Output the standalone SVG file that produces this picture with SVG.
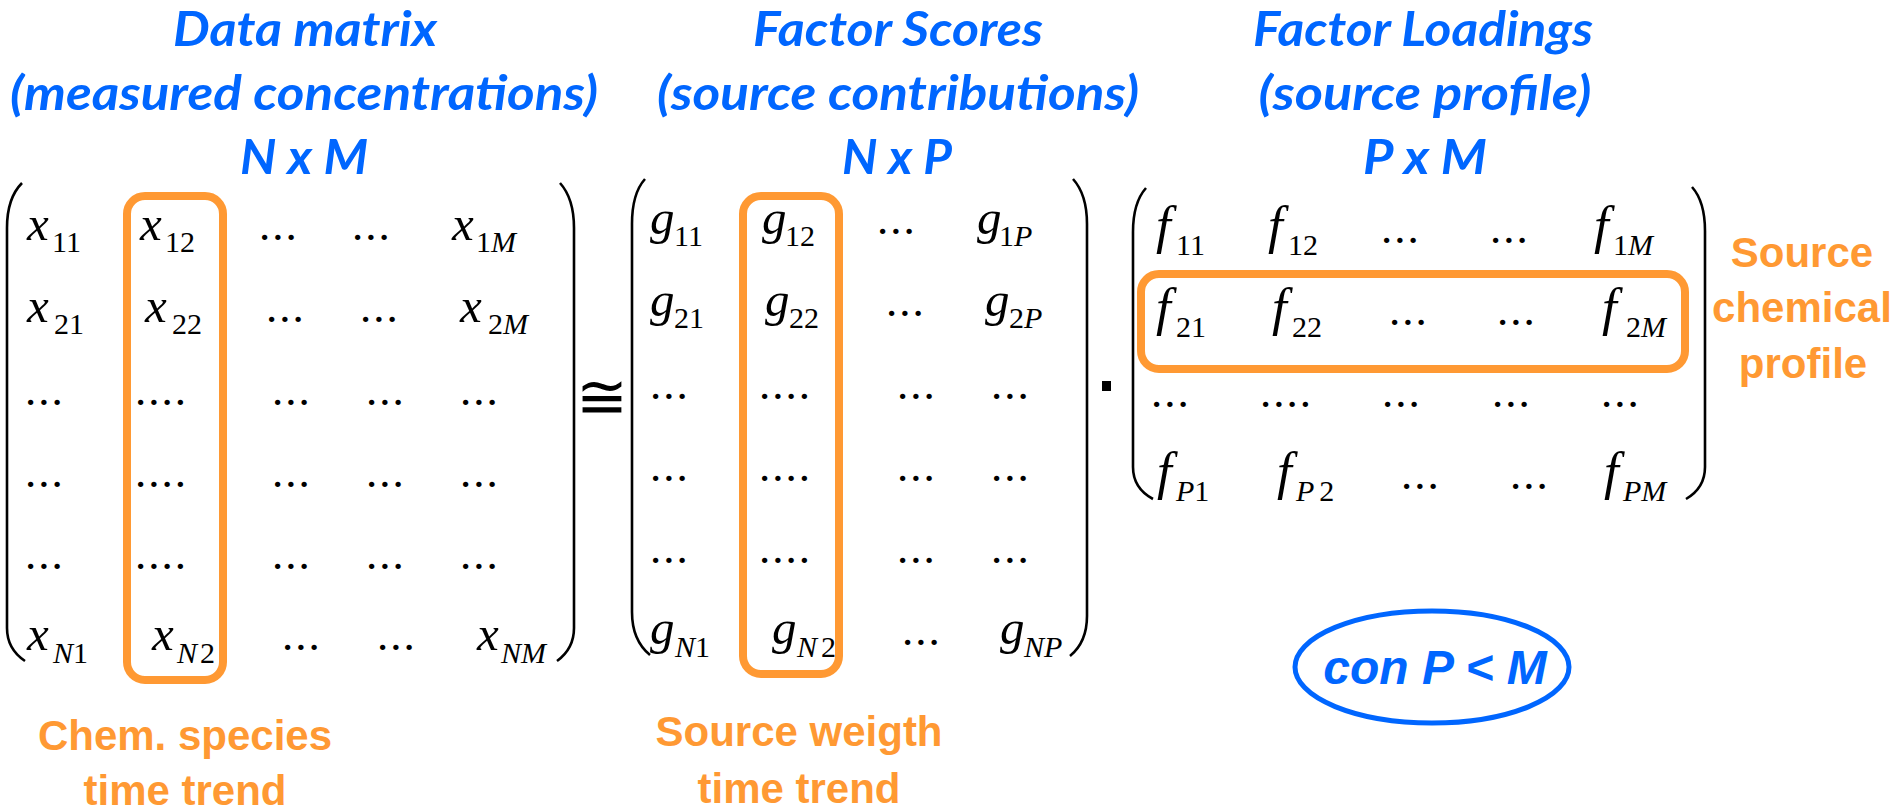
<svg xmlns="http://www.w3.org/2000/svg" width="1899" height="811" viewBox="0 0 1899 811">
<style>
.t{font-family:Lato,"Open Sans",sans-serif;font-weight:bold;font-style:italic;font-size:48px;fill:#0066FF;text-anchor:middle}
.m{font-family:"Liberation Serif","Times New Roman",serif;font-style:italic;font-size:49px;fill:#000}
.mf{font-size:53px}
.s{font-style:normal;font-size:30px}
.i{font-style:italic}
.d{font-family:"Liberation Serif","Times New Roman",serif;font-size:45px;letter-spacing:2px;fill:#000}
.br{fill:none;stroke:#000;stroke-width:2.6}
.ob{fill:none;stroke:#FF9933;stroke-width:8}
.ol{font-family:"Liberation Sans",Arial,sans-serif;font-weight:bold;font-size:42px;fill:#FF9933;text-anchor:middle}
</style>
<rect width="1899" height="811" fill="#fff"/>

<g id="title-data">
<text class="t" x="305" y="46" textLength="264" lengthAdjust="spacingAndGlyphs">Data matrix</text>
<text class="t" x="304" y="110" textLength="588" lengthAdjust="spacingAndGlyphs">(measured concentrations)</text>
<text class="t" x="304" y="174" textLength="128" lengthAdjust="spacingAndGlyphs">N x M</text>
</g>
<g id="title-scores">
<text class="t" x="898" y="46" textLength="290" lengthAdjust="spacingAndGlyphs">Factor Scores</text>
<text class="t" x="898" y="110" textLength="482" lengthAdjust="spacingAndGlyphs">(source contributions)</text>
<text class="t" x="897" y="174" textLength="110" lengthAdjust="spacingAndGlyphs">N x P</text>
</g>
<g id="title-loadings">
<text class="t" x="1423" y="46" textLength="340" lengthAdjust="spacingAndGlyphs">Factor Loadings</text>
<text class="t" x="1425" y="110" textLength="333" lengthAdjust="spacingAndGlyphs">(source profile)</text>
<text class="t" x="1425" y="174" textLength="124" lengthAdjust="spacingAndGlyphs">P x M</text>
</g>

<g id="matrix-x">
<path class="br" d="M22,183 C12,193 7,207 7,228 L7,628 C7,643 13,653 25,661"/>
<path class="br" d="M560,183 C569,193 574,207 574,228 L574,628 C574,643 568,653 557,661"/>
<text class="m" x="27" y="240">x<tspan class="s" x="52" y="252">11</tspan></text>
<text class="m" x="140" y="240">x<tspan class="s" x="165" y="252">12</tspan></text>
<text class="d" x="259" y="240">...</text>
<text class="d" x="352" y="240">...</text>
<text class="m" x="452" y="240">x<tspan class="s" x="476" y="252">1<tspan class="i">M</tspan></tspan></text>
<text class="m" x="27" y="322">x<tspan class="s" x="54" y="334">21</tspan></text>
<text class="m" x="145" y="322">x<tspan class="s" x="172" y="334">22</tspan></text>
<text class="d" x="266" y="322">...</text>
<text class="d" x="360" y="322">...</text>
<text class="m" x="460" y="322">x<tspan class="s" x="488" y="334">2<tspan class="i">M</tspan></tspan></text>
<text class="d" x="25" y="405">...</text><text class="d" x="135" y="405">....</text><text class="d" x="272" y="405">...</text><text class="d" x="366" y="405">...</text><text class="d" x="460" y="405">...</text>
<text class="d" x="25" y="487">...</text><text class="d" x="135" y="487">....</text><text class="d" x="272" y="487">...</text><text class="d" x="366" y="487">...</text><text class="d" x="460" y="487">...</text>
<text class="d" x="25" y="569">...</text><text class="d" x="135" y="569">....</text><text class="d" x="272" y="569">...</text><text class="d" x="366" y="569">...</text><text class="d" x="460" y="569">...</text>
<text class="m" x="27" y="650">x<tspan class="s" x="53" y="663"><tspan class="i">N</tspan>1</tspan></text>
<text class="m" x="152" y="650">x<tspan class="s" x="177" y="663"><tspan class="i">N</tspan><tspan dx="3">2</tspan></tspan></text>
<text class="d" x="282" y="650">...</text>
<text class="d" x="377" y="650">...</text>
<text class="m" x="477" y="650">x<tspan class="s" x="501" y="663"><tspan class="i">NM</tspan></tspan></text>
</g>

<g id="operator-approx">
<text x="602" y="418" font-family="'Liberation Serif','DejaVu Serif',serif" font-size="62" text-anchor="middle" fill="#000">≅</text>
</g>

<g id="matrix-g">
<path class="br" d="M645,179 C636,189 632,203 632,224 L632,612 C632,632 639,646 650,655"/>
<path class="br" d="M1073,179 C1082,189 1087,203 1087,224 L1087,616 C1087,634 1081,647 1070,656"/>
<text class="m" x="650" y="234">g<tspan class="s" x="674" y="246">11</tspan></text>
<text class="m" x="762" y="234">g<tspan class="s" x="785" y="246">12</tspan></text>
<text class="d" x="877" y="234">...</text>
<text class="m" x="977" y="234">g<tspan class="s" x="999" y="246">1<tspan class="i">P</tspan></tspan></text>
<text class="m" x="650" y="316">g<tspan class="s" x="674" y="328">21</tspan></text>
<text class="m" x="765" y="316">g<tspan class="s" x="789" y="328">22</tspan></text>
<text class="d" x="886" y="316">...</text>
<text class="m" x="985" y="316">g<tspan class="s" x="1009" y="328">2<tspan class="i">P</tspan></tspan></text>
<text class="d" x="650" y="399">...</text><text class="d" x="759" y="399">....</text><text class="d" x="897" y="399">...</text><text class="d" x="991" y="399">...</text>
<text class="d" x="650" y="481">...</text><text class="d" x="759" y="481">....</text><text class="d" x="897" y="481">...</text><text class="d" x="991" y="481">...</text>
<text class="d" x="650" y="563">...</text><text class="d" x="759" y="563">....</text><text class="d" x="897" y="563">...</text><text class="d" x="991" y="563">...</text>
<text class="m" x="650" y="644">g<tspan class="s" x="675" y="657"><tspan class="i">N</tspan>1</tspan></text>
<text class="m" x="772" y="644">g<tspan class="s" x="797" y="657"><tspan class="i">N</tspan><tspan dx="4">2</tspan></tspan></text>
<text class="d" x="902" y="645">...</text>
<text class="m" x="1000" y="644">g<tspan class="s" x="1024" y="657"><tspan class="i">NP</tspan></tspan></text>
</g>

<g id="operator-dot">
<rect x="1102" y="381" width="9" height="10" fill="#000"/>
</g>

<g id="matrix-f">
<path class="br" d="M1146,188 C1138,197 1133,211 1133,232 L1133,467 C1133,481 1140,492 1153,499"/>
<path class="br" d="M1692,187 C1700,196 1705,210 1705,231 L1705,467 C1705,481 1698,492 1686,499"/>
<text class="m mf" x="1156" y="243">f<tspan class="s" x="1176" y="255">11</tspan></text>
<text class="m mf" x="1268" y="243">f<tspan class="s" x="1288" y="255">12</tspan></text>
<text class="d" x="1381" y="243">...</text>
<text class="d" x="1490" y="243">...</text>
<text class="m mf" x="1594" y="243">f<tspan class="s" x="1613" y="255">1<tspan class="i">M</tspan></tspan></text>
<text class="m mf" x="1156" y="325">f<tspan class="s" x="1176" y="337">21</tspan></text>
<text class="m mf" x="1272" y="325">f<tspan class="s" x="1292" y="337">22</tspan></text>
<text class="d" x="1389" y="325">...</text>
<text class="d" x="1497" y="325">...</text>
<text class="m mf" x="1602" y="325">f<tspan class="s" x="1626" y="337">2<tspan class="i">M</tspan></tspan></text>
<text class="d" x="1151" y="407">...</text><text class="d" x="1260" y="407">....</text><text class="d" x="1382" y="407">...</text><text class="d" x="1492" y="407">...</text><text class="d" x="1601" y="407">...</text>
<text class="m mf" x="1157" y="489">f<tspan class="s" x="1176" y="501"><tspan class="i">P</tspan>1</tspan></text>
<text class="m mf" x="1277" y="489">f<tspan class="s" x="1296" y="501"><tspan class="i">P</tspan><tspan dx="5">2</tspan></tspan></text>
<text class="d" x="1401" y="489">...</text>
<text class="d" x="1510" y="489">...</text>
<text class="m mf" x="1604" y="489">f<tspan class="s" x="1623" y="501"><tspan class="i">PM</tspan></tspan></text>
</g>

<g id="highlights">
<rect class="ob" x="127" y="196" width="96" height="484" rx="18"/>
<rect class="ob" x="743" y="196" width="96" height="478" rx="18"/>
<rect class="ob" x="1141" y="274" width="544" height="95" rx="18"/>
</g>

<g id="label-species">
<text class="ol" x="185" y="750">Chem. species</text>
<text class="ol" x="185" y="805">time trend</text>
</g>
<g id="label-weight">
<text class="ol" x="799" y="746">Source weigth</text>
<text class="ol" x="799" y="803">time trend</text>
</g>
<g id="label-profile">
<text class="ol" x="1802" y="267">Source</text>
<text class="ol" x="1802" y="322">chemical</text>
<text class="ol" x="1803" y="378">profile</text>
</g>

<g id="constraint">
<ellipse cx="1432" cy="667" rx="137" ry="56" fill="none" stroke="#0066FF" stroke-width="5"/>
<text x="1435" y="684" font-family="'Liberation Sans',Arial,sans-serif" font-weight="bold" font-style="italic" font-size="48" fill="#0066FF" text-anchor="middle">con P &lt; M</text>
</g>
<g id="connectors"/>
</svg>
